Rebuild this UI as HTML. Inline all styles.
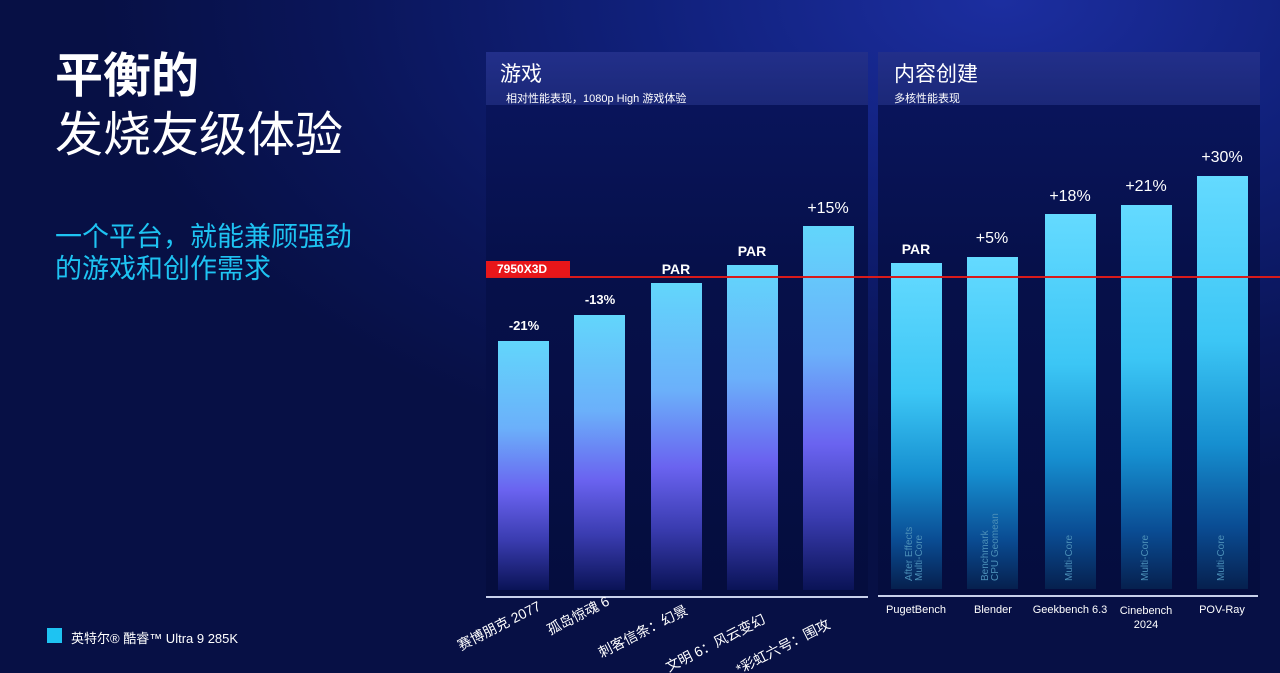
<!DOCTYPE html>
<html style="overflow:hidden"><head><meta charset="utf-8"><style>
*{margin:0;padding:0;box-sizing:border-box}
html,body{width:1280px;height:673px;overflow:hidden}
body{position:relative;font-family:"Liberation Sans","Noto Sans CJK SC",sans-serif;color:#fff;
background:radial-gradient(ellipse 900px 500px at 1000px 0px,#1c2ea0 0%,#10207a 40%,#0a1558 75%,#071045 100%);}
.a{position:absolute}
.panel{position:absolute;top:52px;height:545px;background:linear-gradient(#0a1660,#06104a 40%,#050d3e);}
.hdr{position:absolute;left:0;top:0;right:0;height:53px;background:linear-gradient(#222f8a,#1b2878)}
.bar{position:absolute;width:51px}
.g{background:linear-gradient(#62d6fb 0%,#6bb0fa 35%,#6a63f0 60%,#3a3cb0 80%,#0a1356 100%)}
.c{background:linear-gradient(#64daff 0%,#3cc6f5 40%,#168fd0 65%,#0a4c93 85%,#06204e 100%)}
.lbl{position:absolute;font-weight:bold;font-size:14px;text-align:center;width:80px}
.vt{position:absolute;writing-mode:vertical-rl;transform:rotate(180deg);font-size:10px;color:#4b8fb8;line-height:10px}
.xl{position:absolute;font-size:11px;text-align:center;width:90px;color:#fff}
.anc{position:absolute;width:0;height:0}
.anc span{position:absolute;right:0;top:0;font-size:14px;white-space:nowrap;transform:rotate(-27deg);transform-origin:right top}
</style></head><body>
<div class="a" style="left:55px;top:50px;font-size:48px;font-weight:bold;line-height:54px">平衡的</div>
<div class="a" style="left:55px;top:108px;font-size:48px;line-height:56px">发烧友级体验</div>
<div class="a" style="left:55px;top:221px;font-size:27px;color:#1ec3f2;line-height:32px">一个平台，就能兼顾强劲<br>的游戏和创作需求</div>
<div class="a" style="left:47px;top:628px;width:15px;height:15px;background:#1ec3f2"></div>
<div class="a" style="left:71px;top:628px;font-size:13px">英特尔® 酷睿™ Ultra 9 285K</div>

<div class="panel" style="left:486px;width:382px">
<div class="hdr"></div>
<div class="a" style="left:14px;top:6px;font-size:21px">游戏</div>
<div class="a" style="left:20px;top:38px;font-size:11px">相对性能表现，1080p High 游戏体验</div>
</div>
<div class="panel" style="left:878px;width:382px">
<div class="hdr"></div>
<div class="a" style="left:16px;top:6px;font-size:21px">内容创建</div>
<div class="a" style="left:16px;top:38px;font-size:11px">多核性能表现</div>
</div>

<div class="bar g" style="left:498px;top:341px;height:249px"></div>
<div class="bar g" style="left:574px;top:315px;height:275px"></div>
<div class="bar g" style="left:651px;top:283px;height:307px"></div>
<div class="bar g" style="left:727px;top:265px;height:325px"></div>
<div class="bar g" style="left:803px;top:226px;height:364px"></div>
<div class="lbl" style="left:484px;top:318px;font-size:13px">-21%</div>
<div class="lbl" style="left:560px;top:292px;font-size:13px">-13%</div>
<div class="lbl" style="left:636px;top:261px">PAR</div>
<div class="lbl" style="left:712px;top:243px">PAR</div>
<div class="lbl" style="left:788px;top:200px;font-size:16px;font-weight:normal">+15%</div>

<div class="bar c" style="left:891px;top:263px;height:326px"></div>
<div class="bar c" style="left:967px;top:257px;height:332px"></div>
<div class="bar c" style="left:1045px;top:214px;height:375px"></div>
<div class="bar c" style="left:1121px;top:205px;height:384px"></div>
<div class="bar c" style="left:1197px;top:176px;height:413px"></div>
<div class="lbl" style="left:876px;top:241px">PAR</div>
<div class="lbl" style="left:952px;top:230px;font-size:16px;font-weight:normal">+5%</div>
<div class="lbl" style="left:1030px;top:188px;font-size:16px;font-weight:normal">+18%</div>
<div class="lbl" style="left:1106px;top:178px;font-size:16px;font-weight:normal">+21%</div>
<div class="lbl" style="left:1182px;top:149px;font-size:16px;font-weight:normal">+30%</div>

<div class="vt" style="left:905px;top:515px;height:66px">After Effects<br>Multi-Core</div>
<div class="vt" style="left:981px;top:505px;height:76px">Benchmark<br>CPU Geomean</div>
<div class="vt" style="left:1065px;top:528px;height:53px">Multi-Core</div>
<div class="vt" style="left:1141px;top:528px;height:53px">Multi-Core</div>
<div class="vt" style="left:1217px;top:528px;height:53px">Multi-Core</div>

<div class="a" style="left:486px;top:596px;width:382px;height:2px;background:#c8d0ea"></div>
<div class="a" style="left:878px;top:595px;width:380px;height:2px;background:#c8d0ea"></div>

<div class="a" style="left:486px;top:276px;width:794px;height:2px;background:#d81a1a"></div>
<div class="a" style="left:486px;top:261px;width:84px;height:16px;background:#e8161a;font-size:12px;font-weight:bold;padding-left:11px;line-height:16px">7950X3D</div>

<div class="xl" style="left:871px;top:604px">PugetBench</div>
<div class="xl" style="left:948px;top:604px">Blender</div>
<div class="xl" style="left:1025px;top:604px">Geekbench 6.3</div>
<div class="xl" style="left:1101px;top:604px;line-height:14px">Cinebench<br>2024</div>
<div class="xl" style="left:1177px;top:604px">POV-Ray</div>

<div class="anc" style="left:535px;top:596px"><span>赛博朋克 2077</span></div>
<div class="anc" style="left:604px;top:591px"><span>孤岛惊魂 6</span></div>
<div class="anc" style="left:682px;top:600px"><span>刺客信条：幻景</span></div>
<div class="anc" style="left:760px;top:609px"><span>文明 6：风云变幻</span></div>
<div class="anc" style="left:824px;top:614px"><span>*彩虹六号：围攻</span></div>
</body></html>
